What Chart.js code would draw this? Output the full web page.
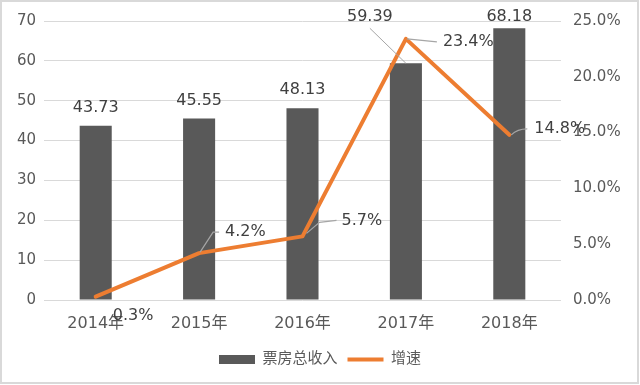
<!DOCTYPE html>
<html>
<head>
<meta charset="utf-8">
<script src="https://cdn.jsdelivr.net/npm/chart.js@4/dist/chart.umd.min.js"></script>
<style>
  body { margin: 0; background: #fff; }
  #wrap { width: 640px; height: 385px; }
</style>
</head>
<body>
<div id="wrap"><canvas id="chart" width="640" height="385"></canvas></div>
<script>
// data
const years = ['2014年', '2015年', '2016年', '2017年', '2018年'];
const boxOffice = [43.73, 45.55, 48.13, 59.39, 68.18];   // 票房总收入 (left axis)
const growth = [0.3, 4.2, 5.7, 23.4, 14.8];              // 增速, percent (right axis)
const seriesNames = ['票房总收入', '增速'];

const FONT = "'DejaVu Sans', 'Noto Sans CJK SC', sans-serif";
const barColor = '#595959';
const lineColor = '#ED7D31';
const leaderColor = '#a6a6a6';

// label offsets relative to the mark (dx, dy), plus leader lines
const barLabelOff = [[0, -18], [0, -18], [0, -18], [-36, -46], [0, -11]];
const lineLabelOff = [[17, 19], [26, -21], [39, -16], [37, 3], [25, -6]];

const labelPlugin = {
    id: 'labels',
    beforeDraw(chart) {
        const ctx = chart.ctx;
        ctx.save();
        ctx.fillStyle = '#fff';
        ctx.fillRect(0, 0, chart.width, chart.height);
        ctx.strokeStyle = '#d9d9d9';
        ctx.lineWidth = 2;
        ctx.strokeRect(1, 1, chart.width - 3, chart.height - 3);
        ctx.restore();
    },
    afterDatasetsDraw(chart) {
        const ctx = chart.ctx;
        const bars = chart.getDatasetMeta(0).data;
        const pts = chart.getDatasetMeta(1).data;
        ctx.save();
        ctx.font = '16px ' + FONT;
        ctx.fillStyle = '#404040';
        ctx.textBaseline = 'middle';

        // bar value labels
        ctx.textAlign = 'center';
        bars.forEach(function(b, i) {
            const o = barLabelOff[i];
            const tx = b.x + o[0], ty = b.y + o[1];
            ctx.fillText(boxOffice[i].toFixed(2), tx, ty);
            if (i == 3) {
                ctx.strokeStyle = leaderColor;
                ctx.lineWidth = 1;
                ctx.beginPath();
                ctx.moveTo(tx, ty + 11);
                ctx.lineTo(b.x, b.y);
                ctx.stroke();
            }
        });

        // line value labels
        ctx.textAlign = 'left';
        ctx.strokeStyle = leaderColor;
        ctx.lineWidth = 1.2;
        pts.forEach(function(p, i) {
            const o = lineLabelOff[i];
            const tx = p.x + o[0], ty = p.y + o[1];
            ctx.beginPath();
            if (i == 1) {
                ctx.moveTo(p.x + 1, p.y - 1);
                ctx.lineTo(p.x + 14, p.y - 21);
                ctx.lineTo(p.x + 20, p.y - 21);
            } else if (i == 2) {
                ctx.moveTo(p.x + 4, p.y - 3);
                ctx.lineTo(p.x + 17, p.y - 14);
                ctx.lineTo(p.x + 34, p.y - 16);
            } else if (i == 3) {
                ctx.moveTo(p.x + 1, p.y);
                ctx.lineTo(p.x + 31, p.y + 3);
            } else if (i == 4) {
                ctx.moveTo(p.x + 2, p.y);
                ctx.quadraticCurveTo(p.x + 8, p.y - 6, p.x + 18, p.y - 6);
            }
            ctx.stroke();
            ctx.fillText(growth[i].toFixed(1) + '%', tx, ty);
        });
        ctx.restore();
    }
};

const ctx = document.getElementById('chart').getContext('2d');

const myChart = new Chart(ctx, {
    data: {
        labels: years,
        datasets: [{
            type: 'bar',
            label: seriesNames[0],
            data: boxOffice,
            backgroundColor: barColor,
            yAxisID: 'y',
            order: 2,
            categoryPercentage: 1,
            barPercentage: 0.31
        }, {
            type: 'line',
            label: seriesNames[1],
            data: growth,
            borderColor: lineColor,
            backgroundColor: lineColor,
            borderWidth: 4,
            borderCapStyle: 'round',
            borderJoinStyle: 'round',
            pointRadius: 0,
            tension: 0,
            yAxisID: 'y1',
            order: 1
        }]
    },
    options: {
        responsive: false,
        animation: false,
        devicePixelRatio: 1,
        layout: { padding: { top: 20, left: 0, right: 0, bottom: 8 } },
        plugins: {
            tooltip: { enabled: false },
            legend: {
                position: 'bottom',
                labels: {
                    font: { family: FONT, size: 15 },
                    color: '#595959',
                    usePointStyle: true,
                    pointStyleWidth: 36,
                    boxHeight: 9,
                    padding: 10,
                    generateLabels: function(chart) {
                        return [{
                            text: seriesNames[0], pointStyle: 'rect',
                            fillStyle: barColor, strokeStyle: barColor, lineWidth: 0,
                            fontColor: '#595959', datasetIndex: 0
                        }, {
                            text: seriesNames[1], pointStyle: 'line',
                            fillStyle: lineColor, strokeStyle: lineColor, lineWidth: 4,
                            fontColor: '#595959', datasetIndex: 1
                        }];
                    }
                }
            }
        },
        scales: {
            x: {
                grid: { display: false, drawTicks: false },
                border: { display: false },
                ticks: { font: { family: FONT, size: 16 }, color: '#595959', padding: 14 },
                afterFit: function(scale) { scale.height = 42; }
            },
            y: {
                position: 'left',
                min: 0, max: 70,
                ticks: { stepSize: 10, font: { family: FONT, size: 15 }, color: '#595959', padding: 8 },
                grid: { color: '#d9d9d9', lineWidth: 1, drawTicks: false },
                border: { display: false },
                afterFit: function(scale) { scale.width = 44; }
            },
            y1: {
                position: 'right',
                min: 0, max: 25,
                ticks: {
                    stepSize: 5, font: { family: FONT, size: 15 }, color: '#595959', padding: 12,
                    callback: function(v) { return v.toFixed(1) + '%'; }
                },
                grid: { display: false, drawTicks: false },
                border: { display: false },
                afterFit: function(scale) { scale.width = 79; }
            }
        }
    },
    plugins: [labelPlugin]
});
</script>
</body>
</html>
